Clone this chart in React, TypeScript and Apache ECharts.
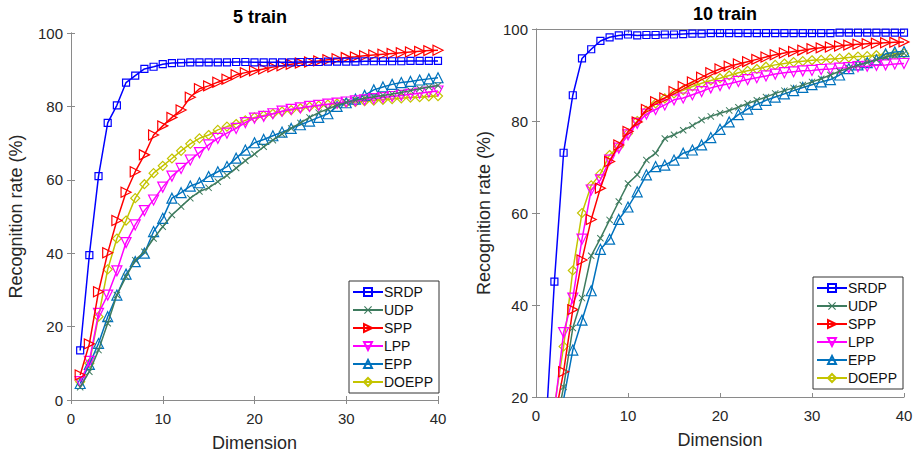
import React, { useEffect, useRef } from "react";
import * as echarts from "echarts";

const dims = Array.from({ length: 40 }, (_, i) => i + 1);

const methods = ["SRDP", "UDP", "SPP", "LPP", "EPP", "DOEPP"];

// 5 train
const srdp5 = [13.5, 39.5, 61, 75.5, 80.3, 86.5, 88.4, 90.2, 90.8, 91.5, 91.8, 91.9, 92, 92, 92, 92, 92, 92.1, 92.1, 92, 92, 92, 92, 92, 92.1, 92.1, 92.1, 92.2, 92.2, 92.2, 92.2, 92.3, 92.3, 92.3, 92.3, 92.3, 92.4, 92.4, 92.4, 92.4];
const udp5 = [3.5, 7.7, 13.6, 20.9, 28.6, 33.6, 38.1, 40.4, 44, 47.2, 50.4, 52.7, 55, 56.8, 57.8, 59.5, 61.2, 63.2, 65.2, 67, 69, 70.8, 72.5, 74, 75.5, 77, 78.3, 79.3, 80.3, 81.1, 81.7, 82.2, 82.6, 83, 83.4, 83.8, 84.3, 84.8, 85.3, 85.7];
const spp5 = [6.8, 15.3, 29.5, 40.1, 48.9, 56.6, 62.2, 66.8, 72.2, 74.7, 77, 79, 82.5, 84.8, 85.6, 86.6, 87.4, 88.6, 89.2, 89.7, 90.2, 90.7, 91.1, 91.5, 91.8, 92.1, 92.4, 92.7, 93, 93.3, 93.5, 93.8, 94, 94.2, 94.4, 94.6, 94.8, 95, 95.2, 95.3];
const lpp5 = [5, 10.5, 23.6, 28.6, 35.2, 42.9, 47.7, 51.6, 54.5, 58, 61, 63.1, 65.4, 67.4, 69.5, 71.3, 72.7, 74, 75.6, 76.8, 77.3, 78, 78.7, 79.2, 79.6, 80, 80.3, 80.6, 80.9, 81.2, 81.5, 81.8, 82.1, 82.4, 82.7, 83, 83.3, 83.6, 83.9, 84.2];
const epp5 = [4.5, 9.7, 15.4, 22.7, 28.6, 34.3, 37.7, 40, 45.9, 49.5, 55, 56.5, 58.3, 59.2, 60.9, 62.2, 63.6, 65.9, 68.1, 70.1, 71, 72, 73, 74, 75, 76, 77, 78, 80, 81, 82, 83, 84.5, 85.3, 86, 86.5, 86.8, 87.2, 87.5, 87.8];
const doepp5 = [5, 10, 22.7, 35.6, 44, 48.9, 55, 58.8, 61.8, 63.8, 65.8, 67.9, 69.8, 71.3, 72.2, 73.6, 74.5, 75.2, 76.2, 77, 77.5, 78, 78.6, 79, 79.5, 79.9, 80.2, 80.5, 80.8, 81, 81.2, 81.4, 81.6, 81.8, 82, 82.2, 82.4, 82.5, 82.7, 82.8];

// 10 train
const srdp10 = [10.7, 45.1, 73.1, 85.6, 93.6, 95.6, 97.4, 98.2, 98.6, 98.8, 98.6, 98.7, 98.7, 98.8, 98.8, 98.9, 99, 99, 99.1, 99.1, 99.1, 99.1, 99.1, 99.1, 99.1, 99.1, 99.1, 99.1, 99.1, 99.1, 99.1, 99.1, 99.2, 99.2, 99.2, 99.2, 99.2, 99.2, 99.2, 99.2];
const udp10 = [5, 12, 22.2, 35, 41.5, 50.7, 54.5, 58.5, 62.5, 66.4, 68.3, 71.5, 73, 76.2, 77, 78, 79, 80.2, 81, 81.7, 82.3, 83, 83.8, 84.5, 85.2, 86, 86.6, 87.2, 87.8, 88.5, 89.2, 90, 90.8, 91.5, 92.1, 92.7, 93.3, 93.9, 94.3, 94.7];
const spp10 = [5, 15, 25.5, 39, 49.8, 58.6, 65.4, 71.2, 74.8, 77.7, 79.8, 82.5, 84.2, 85, 86.4, 87.5, 88.5, 89.5, 90.5, 91.3, 91.9, 92.4, 92.9, 93.4, 93.9, 94.4, 94.8, 95.1, 95.4, 95.7, 95.9, 96.1, 96.3, 96.5, 96.7, 96.8, 96.9, 97, 97.1, 97.2];
const lpp10 = [6, 17, 34, 41.5, 54.3, 65, 67.2, 71.5, 74.1, 77, 79.5, 81.5, 82.5, 83.5, 84.6, 85, 85.7, 86.4, 87.2, 87.7, 88.1, 88.6, 89, 89.4, 89.8, 90.2, 90.5, 90.7, 90.9, 91, 91.2, 91.3, 91.5, 91.6, 91.8, 91.9, 92.1, 92.2, 92.4, 92.5];
const epp10 = [3, 10, 19.5, 30.2, 36.7, 43.1, 52.1, 54.3, 58.6, 61.3, 64.6, 68.3, 70.1, 70.4, 71.5, 73, 73.7, 74.8, 76.4, 78.2, 79.8, 81.4, 82.6, 83.6, 84.5, 85.2, 85.9, 86.6, 87.3, 87.9, 88.5, 89, 90, 91.4, 92.2, 92.7, 93.3, 94.6, 95, 95.1];
const doepp10 = [8, 18, 31, 47.5, 60, 66, 68.5, 72.6, 74.4, 77.3, 80, 82.2, 83.8, 84.9, 86, 86.7, 87.5, 88.2, 88.8, 89.3, 89.9, 90.5, 90.9, 91.3, 91.8, 92.2, 92.5, 92.8, 93, 93.2, 93.3, 93.5, 93.6, 93.8, 94, 94.1, 94.3, 94.4, 94.6, 94.7];

const data5 = [srdp5, udp5, spp5, lpp5, epp5, doepp5];
const data10 = [srdp10, udp10, spp10, lpp10, epp10, doepp10];

const colors = ["#0000FF", "#3E7B5E", "#FF0000", "#FF00FF", "#0072BD", "#C4C400"];
const xPath =
  "path://M0,1L1,0L5,4L9,0L10,1L6,5L10,9L9,10L5,6L1,10L0,9L4,5Z";
const symbols = ["rect", xPath, "triangle", "triangle", "triangle", "diamond"];
const rotates = [0, 0, -90, 180, 0, 0];
const sizes = [7, 7, 10, 10, 10, 9];

const FONT = "Liberation Sans, Arial, sans-serif";

export default function App() {
  const ref = useRef<HTMLDivElement>(null);
  useEffect(() => {
    if (!ref.current) return;
    document.body.style.margin = "0";
    const chart = echarts.init(ref.current, undefined, { renderer: "svg" });

    const axisCommon = {
      axisLine: { show: true, lineStyle: { color: "#8a8a8a", width: 1 } },
      axisTick: { show: true, inside: true, length: 4, lineStyle: { color: "#8a8a8a" } },
      splitLine: { show: false },
      axisLabel: { color: "#262626", fontSize: 15, fontFamily: FONT },
      nameTextStyle: { color: "#262626", fontSize: 18, fontFamily: FONT },
    };

    const xAxes: any[] = [];
    const yAxes: any[] = [];
    [0, 1].forEach((g) => {
      xAxes.push({
        ...axisCommon,
        type: "value",
        gridIndex: g,
        min: 0,
        max: 40,
        interval: 10,
        name: "Dimension",
        nameLocation: "middle",
        nameGap: 34,
        axisLabel: { ...axisCommon.axisLabel, margin: 11 },
      });
      xAxes.push({
        ...axisCommon,
        type: "value",
        gridIndex: g,
        position: "top",
        min: 0,
        max: 40,
        interval: 10,
        axisLabel: { show: false },
      });
      yAxes.push({
        ...axisCommon,
        type: "value",
        gridIndex: g,
        min: g === 0 ? 0 : 20,
        max: 100,
        interval: 20,
        name: "Recognition rate (%)",
        nameLocation: "middle",
        nameGap: g === 0 ? 46 : 43,
        axisLabel: { ...axisCommon.axisLabel, margin: 8 },
      });
      yAxes.push({
        ...axisCommon,
        type: "value",
        gridIndex: g,
        position: "right",
        min: g === 0 ? 0 : 20,
        max: 100,
        interval: 20,
        axisLabel: { show: false },
      });
    });

    const series: any[] = [];
    [data5, data10].forEach((ds, g) => {
      ds.forEach((vals, i) => {
        series.push({
          type: "line",
          name: methods[i],
          xAxisIndex: g * 2,
          yAxisIndex: g * 2,
          data: dims.map((d, k) => [d, vals[k]]),
          symbol: symbols[i],
          symbolRotate: rotates[i],
          symbolSize: sizes[i],
          showAllSymbol: true,
          clip: true,
          lineStyle: { color: colors[i], width: 1.5 },
          itemStyle: {
            color: i === 1 ? colors[i] : "rgba(255,255,255,0)",
            borderColor: colors[i],
            borderWidth: i === 1 ? 0 : 1.2,
          },
          z: 10 - i,
        });
      });
    });

    const legendCommon = {
      orient: "vertical",
      data: methods,
      itemWidth: 30,
      itemHeight: 10,
      itemGap: 4,
      padding: [4, 6, 4, 3],
      backgroundColor: "#fff",
      borderColor: "#333",
      borderWidth: 1,
      borderRadius: 0,
      textStyle: { fontSize: 14, fontFamily: FONT, color: "#111", padding: [0, 0, 0, -4] },
    };

    chart.setOption({
      animation: false,
      backgroundColor: "#fff",
      title: [
        {
          text: "5 train",
          left: 255,
          textAlign: "center",
          top: 3,
          textStyle: { fontSize: 18, fontWeight: "bold", fontFamily: FONT, color: "#000" },
        },
        {
          text: "10 train",
          left: 720,
          textAlign: "center",
          top: 0,
          textStyle: { fontSize: 18, fontWeight: "bold", fontFamily: FONT, color: "#000" },
        },
      ],
      grid: [
        { left: 71, right: 478, top: 33, bottom: 59 },
        { left: 536, right: 12, top: 29, bottom: 62 },
      ],
      xAxis: xAxes,
      yAxis: yAxes,
      legend: [
        { ...legendCommon, left: 349, top: 281 },
        { ...legendCommon, left: 813, top: 277 },
      ],
      series,
    });
    return () => chart.dispose();
  }, []);
  return <div ref={ref} style={{ width: 916, height: 459 }} />;
}
